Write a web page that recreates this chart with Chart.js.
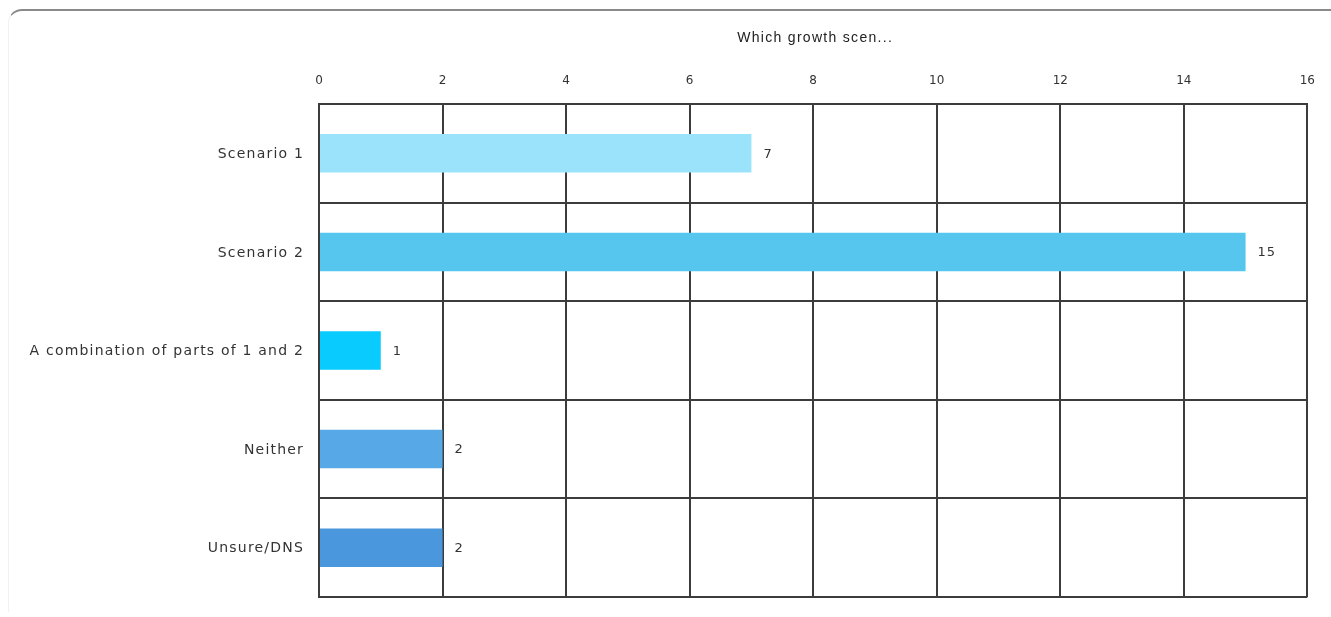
<!DOCTYPE html>
<html>
<head>
<meta charset="utf-8">
<script src="https://cdn.jsdelivr.net/npm/chart.js@4"></script>
<style>
  html, body { margin: 0; padding: 0; background: #fff; overflow: hidden; }
  #frame {
    position: absolute; left: 8px; top: 9px; width: 1340px; height: 603px;
    border-top: 2px solid #8a8a8a; border-left: 1px solid #f2f2f2;
    border-top-left-radius: 14px; box-sizing: border-box;
  }
  #chart { position: absolute; left: 0; top: 0; }
</style>
</head>
<body>
<div id="frame"></div>
<canvas id="chart" width="1331" height="617"></canvas>
<script>
  const categories = ['Scenario 1', 'Scenario 2', 'A combination of parts of 1 and 2', 'Neither', 'Unsure/DNS']
  const counts = [7, 15, 1, 2, 2]
  const barColors = ['#9be3fb', '#56c6ee', '#0acbfd', '#56a8e6', '#4a97dd']
  const titleText = 'Which growth scen...'

  const FONT = '"DejaVu Sans", sans-serif'

  // category names, value labels and the title are drawn here (spaced-out text)
  const extras = {
    id: 'extras',
    afterDatasetsDraw(chart) {
      const ctx = chart.ctx
      const meta = chart.getDatasetMeta(0)
      const yScale = chart.scales.y
      const a = chart.chartArea
      ctx.save()
      ctx.fillStyle = '#333'
      ctx.textBaseline = 'middle'

      ctx.font = '14px ' + FONT
      ctx.letterSpacing = '1.2px'
      ctx.textAlign = 'right'
      categories.forEach((c, i) => {
        ctx.fillText(c, a.left - 15, yScale.getPixelForValue(i) + 1)
      })

      ctx.font = '13px ' + FONT
      ctx.letterSpacing = '1px'
      ctx.textAlign = 'left'
      meta.data.forEach((bar, i) => {
        ctx.fillText(String(counts[i]), bar.x + 12, bar.y + 1)
      })

      ctx.font = '14px "Liberation Sans", Arial, sans-serif'
      ctx.letterSpacing = '1.3px'
      ctx.textAlign = 'center'
      ctx.fillStyle = '#222'
      ctx.fillText(titleText, (a.left + a.right) / 2 + 2, 38)
      ctx.restore()
    }
  }

  new Chart(document.getElementById('chart'), {
    type: 'bar',
    data: {
      labels: categories,
      datasets: [{
        data: counts,
        backgroundColor: barColors,
        borderWidth: 0,
        barPercentage: 0.39,
        categoryPercentage: 1
      }]
    },
    options: {
      indexAxis: 'y',
      responsive: false,
      animation: false,
      devicePixelRatio: 1,
      layout: { padding: { left: 0, right: 20, top: 56, bottom: 20 } },
      plugins: { legend: { display: false }, tooltip: { enabled: false } },
      scales: {
        x: {
          position: 'top',
          min: 0, max: 16,
          ticks: { stepSize: 2, color: '#333', padding: 16, font: { family: FONT, size: 12 } },
          grid: { color: '#3c3c3c', lineWidth: 2, drawTicks: false },
          border: { color: '#3c3c3c', width: 2 },
          afterFit(s) { s.height = 48 }
        },
        y: {
          ticks: { display: false },
          grid: { color: '#3c3c3c', lineWidth: 2, drawTicks: false, offset: true },
          border: { color: '#3c3c3c', width: 2 },
          afterFit(s) { s.width = 319 }
        }
      }
    },
    plugins: [extras]
  })
</script>
</body>
</html>
